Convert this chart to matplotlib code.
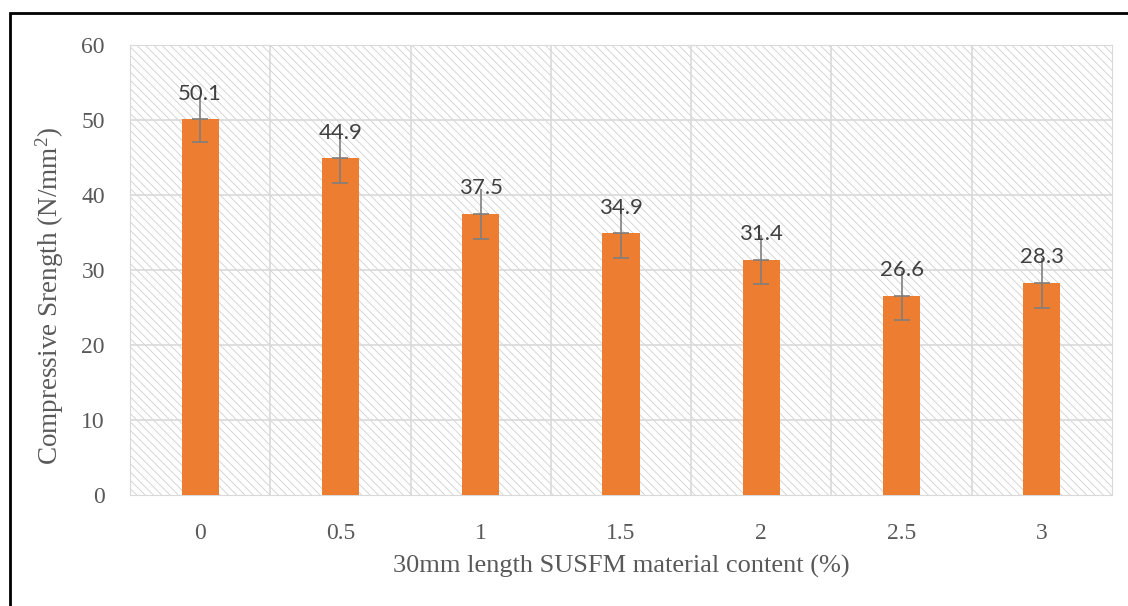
import matplotlib.pyplot as plt
import numpy as np
from matplotlib.patches import Rectangle

categories = ["0", "0.5", "1", "1.5", "2", "2.5", "3"]
strength = [50.1, 44.9, 37.5, 34.9, 31.4, 26.6, 28.3]
err = [3.0, 3.3, 3.3, 3.3, 3.3, 3.3, 3.3]

orange = "#ed7d31"
grey_txt = "#595959"
plt.rcParams["hatch.linewidth"] = 0.6
plt.rcParams["hatch.color"] = "#d0d0d0"
plt.rcParams["mathtext.fontset"] = "custom"
plt.rcParams["mathtext.rm"] = "Liberation Serif"
plt.rcParams["mathtext.default"] = "regular"

fig = plt.figure(figsize=(11.28, 6.06), dpi=100)
ax = fig.add_axes([130 / 1128, 1 - 495 / 606, 982 / 1128, 450 / 606])

# hatched plot area background
ax.add_patch(Rectangle((0, 0), 1, 1, transform=ax.transAxes, facecolor="white",
                       edgecolor="#d0d0d0", hatch="\\\\\\\\", lw=0, zorder=0))

x = np.arange(len(categories))
ax.bar(x, strength, width=0.265, color=orange, zorder=3)
ax.errorbar(x, strength, yerr=[err, [0] * len(err)], fmt="none", ecolor="#7f7f7f",
            elinewidth=1.2, capsize=6, capthick=1.2, zorder=4)
ax.errorbar(x, strength, yerr=[[0] * len(err), err], fmt="none", ecolor="#7f7f7f",
            elinewidth=1.2, capsize=0, zorder=4)

for xi, v in zip(x, strength):
    ax.text(xi, v + 3.4, f"{v}", ha="center", va="center", fontsize=16,
            family="Lato", color="#404040", zorder=5)

ax.set_xlim(-0.5, len(categories) - 0.5)
ax.set_ylim(0, 60)
ax.set_yticks(range(0, 61, 10))
ax.set_xticks(x)
ax.set_xticklabels(categories)

# gridlines: horizontal at ticks, vertical at category boundaries
for y in range(10, 61, 10):
    ax.axhline(y, color="#d9d9d9", lw=1.2, zorder=1)
for b in np.arange(0.5, len(categories) - 0.5, 1):
    ax.axvline(b, color="#d9d9d9", lw=1.2, zorder=1)

for s in ["top", "right", "left", "bottom"]:
    ax.spines[s].set_color("#d9d9d9")
ax.tick_params(length=0, labelsize=17, colors=grey_txt)
ax.tick_params(axis="x", pad=20)
ax.tick_params(axis="y", pad=18)
for lab in ax.get_xticklabels() + ax.get_yticklabels():
    lab.set_family("Liberation Serif")

ax.set_xlabel("30mm length SUSFM material content (%)", family="Liberation Serif",
              fontsize=19, color=grey_txt, labelpad=8)
ax.set_ylabel("Compressive Srength (N/mm$^2$)", family="Liberation Serif",
              fontsize=19.5, color=grey_txt)
ax.yaxis.set_label_coords(-0.065, 0.442)

# outer frame
fig.add_artist(Rectangle((10 / 1128, -0.01), 1.1, 1 - 13 / 606 + 0.01,
                         transform=fig.transFigure, fill=False, edgecolor="black", lw=2))

fig.savefig("out.png", dpi=100)
